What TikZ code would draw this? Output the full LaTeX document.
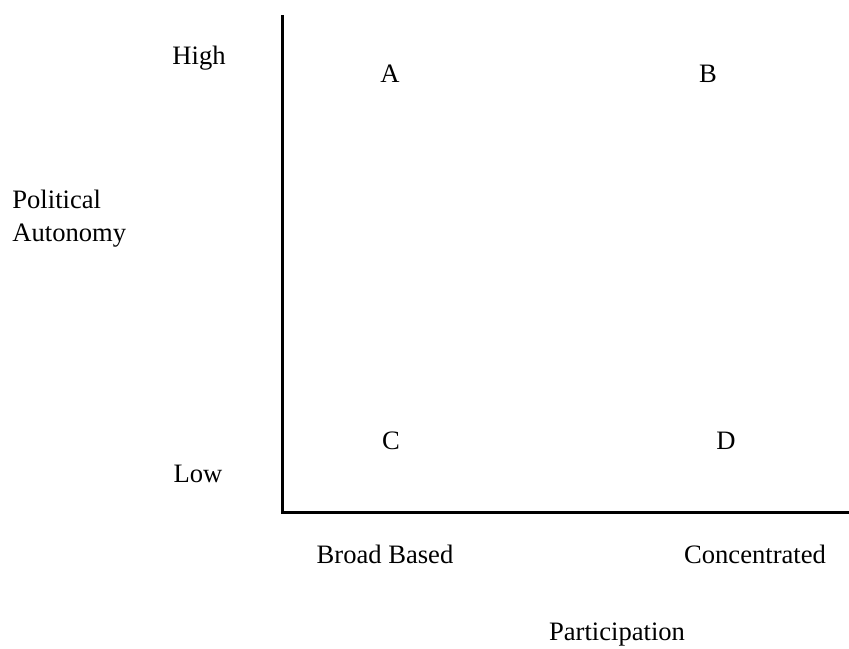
\documentclass[tikz,border=0pt]{standalone}
\usepackage{fontspec}
\setmainfont{Liberation Serif}
\usetikzlibrary{positioning}

\begin{document}
\begin{tikzpicture}[x=0.5pt,y=-0.5pt,
  lbl/.style={font=\fontsize{13.3}{16.5}\selectfont, inner sep=0pt},
  axis/.style={line width=1.5pt}]
 \useasboundingbox (0,0) rectangle (849,648);

 % axes
 \coordinate (top) at (282,15);
 \coordinate (origin) at (282,512);
 \coordinate (right) at (849,512);
 \draw[axis] (top) -- (origin) -- (right);

 % vertical axis
 \node[lbl] (high) at (199,58) {High};
 \node[lbl] (low) at (198,474) {Low};
 \node[lbl, anchor=west, align=left] (autonomy) at (12,219)
   {Political\\Autonomy};

 % cells
 \node[lbl] (cellA) at (390,74) {A};
 \node[lbl] (cellB) at (708,74) {B};
 \node[lbl] (cellC) at (391,441) {C};
 \node[lbl] (cellD) at (726,441) {D};

 % horizontal axis
 \node[lbl] (broad) at (385,554) {Broad Based};
 \node[lbl] (conc) at (755,554) {Concentrated};
 \node[lbl] (particip) at (617,635) {Participation};
\end{tikzpicture}
\end{document}
